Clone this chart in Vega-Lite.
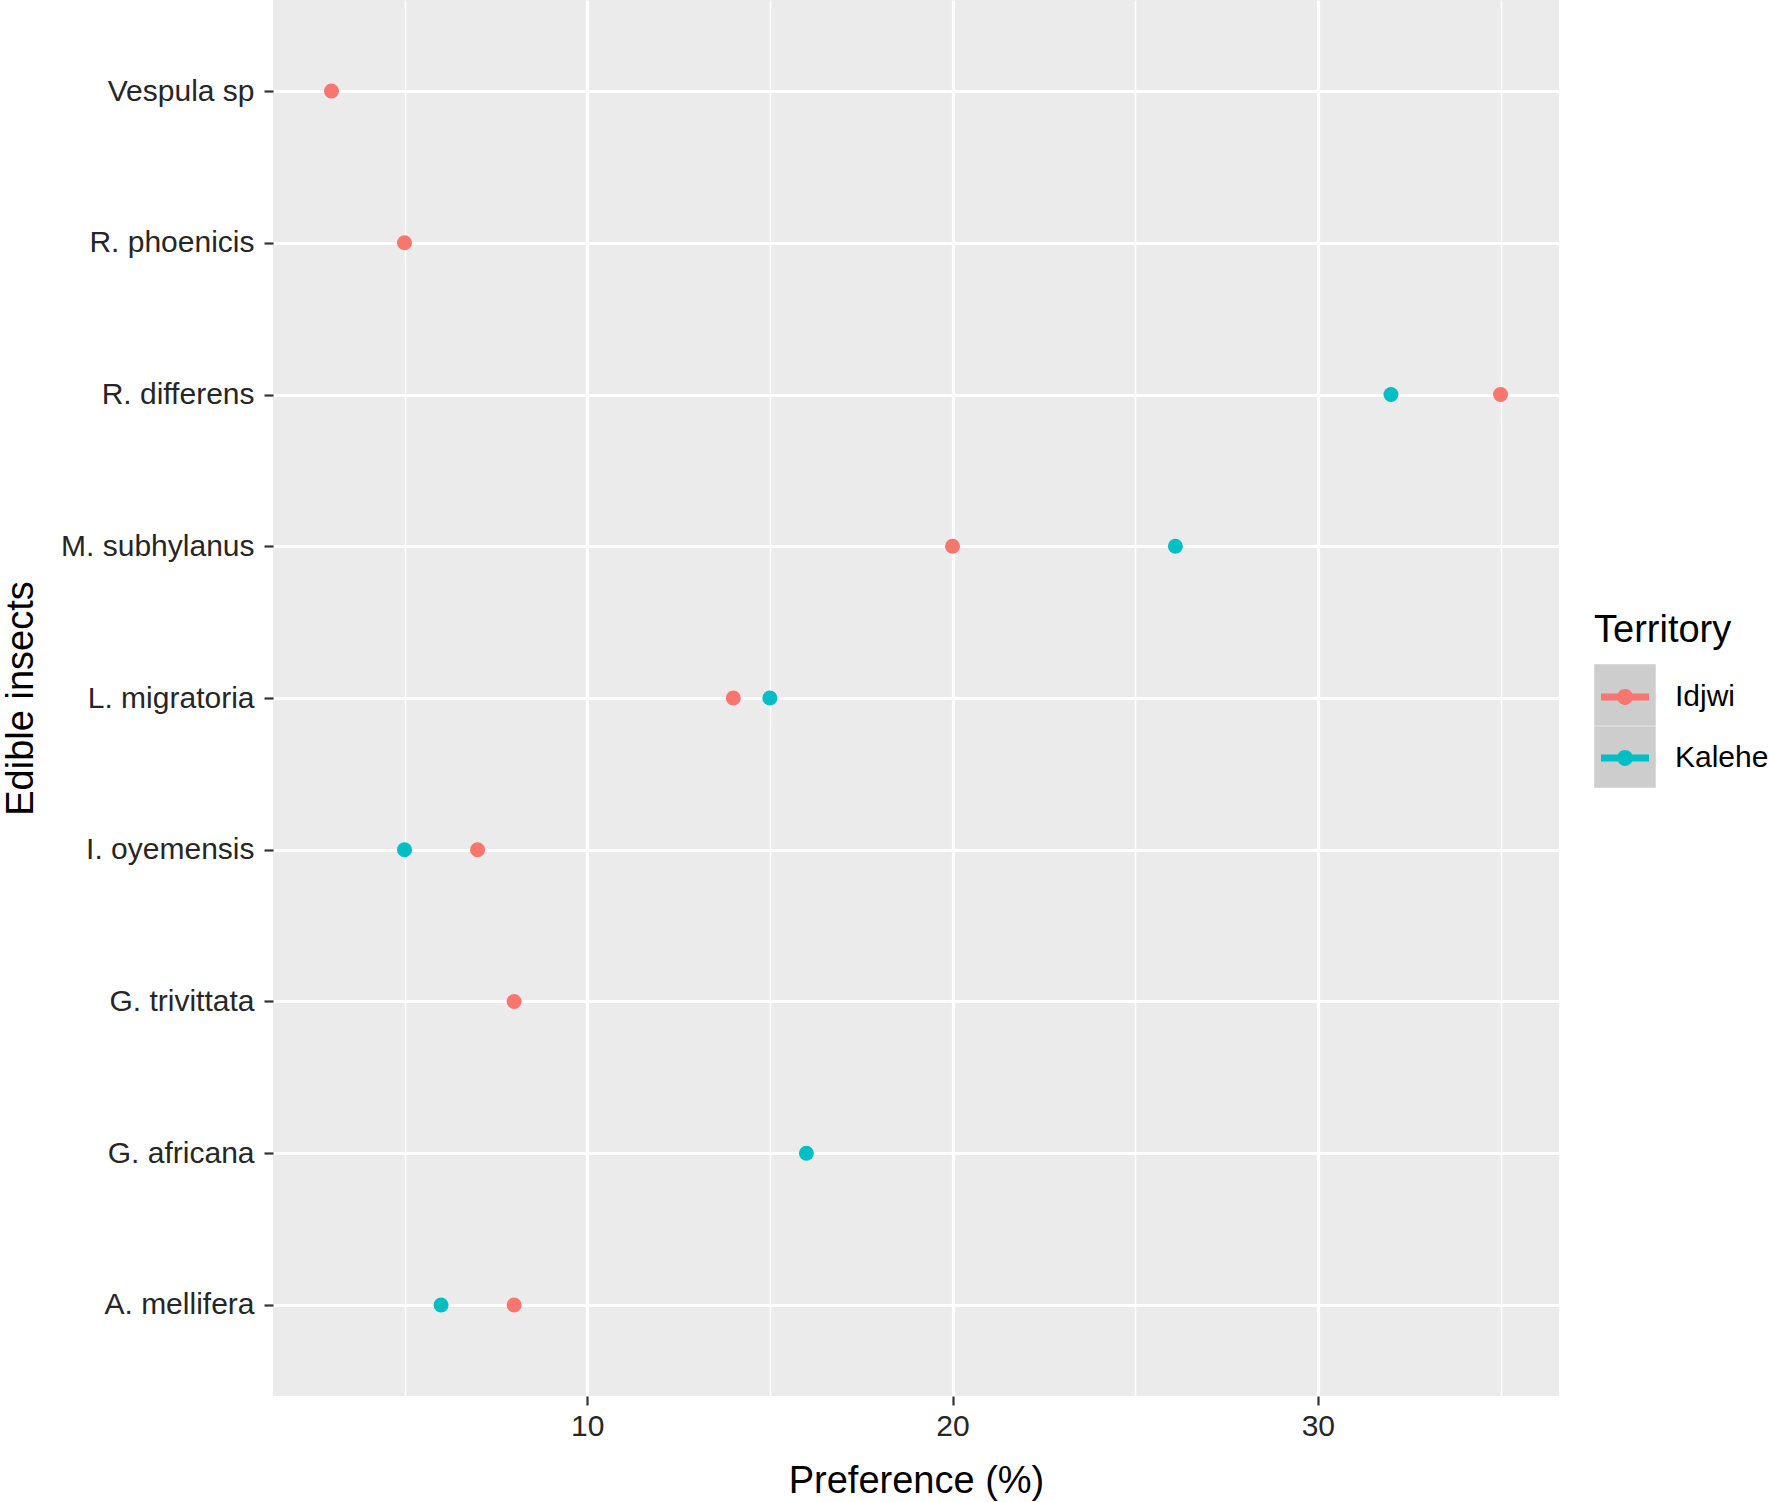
{
  "$schema": "https://vega.github.io/schema/vega-lite/v6.json",
  "width": 1286,
  "height": 1396,
  "autosize": {"type": "none"},
  "padding": {"left": 273, "top": 0, "right": 211, "bottom": 106},
  "background": "white",
  "config": {
    "font": "Liberation Sans",
    "view": {"stroke": null, "fill": "#EBEBEB"},
    "axis": {"domain": false, "gridColor": "#FFFFFF", "tickColor": "#333333", "tickWidth": 2.2, "tickSize": 9, "labelColor": "#262626", "labelFontSize": 30, "labelLimit": 0, "titleFontSize": 38, "titleColor": "#000000", "titleFontWeight": "normal"}
  },
  "layer": [
    {
      "data": {"values": [{"Key": "Idjwi"}, {"Key": "Kalehe"}]},
      "mark": {"type": "point", "filled": true, "opacity": 0},
      "encoding": {
        "fill": {
          "field": "Key",
          "type": "nominal",
          "scale": {"range": ["#CDCDCD", "#CDCDCD"]},
          "legend": {
            "orient": "none", "legendX": 1321, "legendY": 612, "zindex": 0, "padding": 0,
            "title": "Territory", "titleFontSize": 38, "titleColor": "#000000", "titleFontWeight": "normal", "titlePadding": 14, "titleBaseline": "top",
            "symbolType": "square", "symbolSize": 3782, "symbolStrokeWidth": 0, "symbolOpacity": 1, "symbolFillColor": "#CDCDCD", "symbolOffset": 0,
            "rowPadding": 0, "labelExpr": "''", "labelOpacity": 0, "labelFontSize": 30
          }
        }
      }
    },
    {
      "data": {"values": [
        {"Insect": "Vespula sp", "Territory": "Idjwi", "Preference": 3},
        {"Insect": "R. phoenicis", "Territory": "Idjwi", "Preference": 5},
        {"Insect": "R. differens", "Territory": "Kalehe", "Preference": 32},
        {"Insect": "R. differens", "Territory": "Idjwi", "Preference": 35},
        {"Insect": "M. subhylanus", "Territory": "Idjwi", "Preference": 20},
        {"Insect": "M. subhylanus", "Territory": "Kalehe", "Preference": 26.1},
        {"Insect": "L. migratoria", "Territory": "Idjwi", "Preference": 14},
        {"Insect": "L. migratoria", "Territory": "Kalehe", "Preference": 15},
        {"Insect": "I. oyemensis", "Territory": "Kalehe", "Preference": 5},
        {"Insect": "I. oyemensis", "Territory": "Idjwi", "Preference": 7},
        {"Insect": "G. trivittata", "Territory": "Idjwi", "Preference": 8},
        {"Insect": "G. africana", "Territory": "Kalehe", "Preference": 16},
        {"Insect": "A. mellifera", "Territory": "Kalehe", "Preference": 6},
        {"Insect": "A. mellifera", "Territory": "Idjwi", "Preference": 8}
      ]},
      "mark": {"type": "point", "filled": true, "opacity": 1, "size": 225},
      "encoding": {
        "x": {
          "field": "Preference", "type": "quantitative",
          "scale": {"domain": [1.4, 36.6], "nice": false, "zero": false},
          "axis": {
            "title": "Preference (%)",
            "values": [5, 10, 15, 20, 25, 30, 35],
            "labelExpr": "datum.value % 10 === 0 ? datum.label : ''",
            "labelPadding": 6,
            "gridWidth": {"condition": {"test": "datum.value % 10 === 0", "value": 3.2}, "value": 1.6},
            "tickOpacity": {"condition": {"test": "datum.value % 10 === 0", "value": 1}, "value": 0},
            "titleBaseline": "alphabetic",
            "titleY": 96
          }
        },
        "y": {
          "field": "Insect", "type": "nominal", "sort": "descending",
          "scale": {"type": "point", "padding": 0.6},
          "axis": {
            "title": "Edible insects",
            "grid": true,
            "labelPadding": 10,
            "gridWidth": 3.2,
            "titleBaseline": "alphabetic",
            "titleX": -241,
            "titleY": 698,
            "titleAlign": "center",
            "titleAngle": -90
          }
        },
        "color": {
          "field": "Territory", "type": "nominal",
          "scale": {"domain": ["Idjwi", "Kalehe"], "range": ["#F8766D", "#00BFC4"]},
          "legend": {
            "orient": "none", "legendX": 1328, "legendY": 673, "zindex": 2, "padding": 0,
            "title": null,
            "symbolType": "M-1,-0.15H1V0.15H-1Z M0.33,0A0.33,0.33 0 1,1 -0.33,0A0.33,0.33 0 1,1 0.33,0Z",
            "symbolSize": 2304, "symbolStrokeWidth": 0, "symbolOpacity": 1, "symbolOffset": 0,
            "rowPadding": 22, "labelOffset": 26, "labelFontSize": 30, "labelColor": "#000000"
          }
        }
      }
    }
  ]
}
